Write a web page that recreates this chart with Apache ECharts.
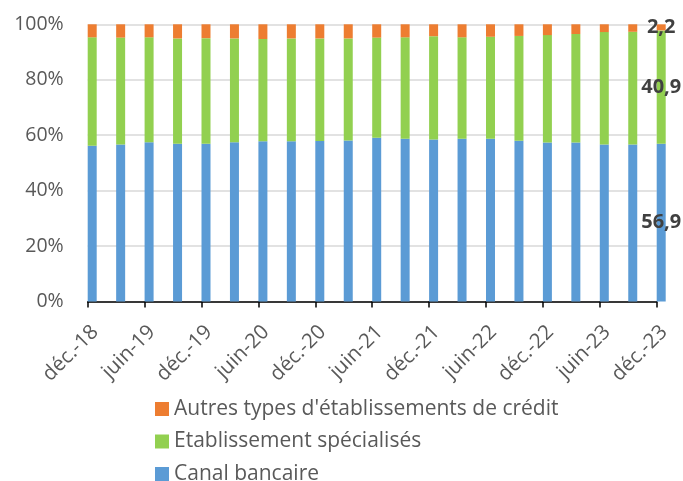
<!DOCTYPE html>
<html><head><meta charset="utf-8">
<script src="https://cdn.jsdelivr.net/npm/echarts@6/dist/echarts.min.js"></script>
<style>html,body{margin:0;padding:0;background:#fff}#c{width:683px;height:481px}</style>
</head><body><div id="c"></div>
<script>
const categories = ['déc.-18','mars-19','juin-19','sept.-19','déc.-19','mars-20','juin-20','sept.-20','déc.-20','mars-21','juin-21','sept.-21','déc.-21','mars-22','juin-22','sept.-22','déc.-22','mars-23','juin-23','sept.-23','déc.-23'];
const canalBancaire = [56.2,56.6,57.4,56.9,56.9,57.4,57.8,57.8,57.9,58.1,59.1,58.7,58.4,58.7,58.7,58.0,57.3,57.3,56.6,56.6,56.9];
const etabSpecialises = [39.1,38.6,37.9,38.0,38.1,37.5,36.9,37.1,37.0,36.8,36.1,36.6,37.3,36.6,36.8,37.8,38.8,39.2,40.6,40.7,40.9];
const autresTypes = [4.7,4.8,4.7,5.1,5.0,5.1,5.3,5.1,5.1,5.1,4.8,4.7,4.3,4.7,4.5,4.2,3.9,3.5,2.8,2.7,2.2];
const yTicks = [0,20,40,60,80,100];
const seriesNames = ['Canal bancaire','Etablissement spécialisés',"Autres types d'établissements de crédit"];

const FONT = 'Open Sans';
const last = categories.length - 1;
const lbl = {
  show: true, position: 'inside', color: '#404040', fontWeight: 'bold', fontSize: 20, fontFamily: FONT,
  formatter: p => p.dataIndex === last ? p.value.toFixed(1).replace('.', ',') : ''
};
function mk(name, data, color) {
  return { name, type: 'bar', stack: 'total', data, barWidth: 9, clip: false,
    itemStyle: { color }, label: lbl, emphasis: { disabled: true } };
}
const chart = echarts.init(document.getElementById('c'), null, { renderer: 'canvas' });
chart.setOption({
  animation: false,
  textStyle: { fontFamily: FONT },
  grid: { left: 87.7, right: 26.3, top: 24.3, bottom: 179.6 },
  legend: {
    orient: 'vertical', left: 155, top: 398.5, height: 150, padding: 0,
    itemWidth: 14, itemHeight: 14, itemGap: 11.5, itemTextGap: 7,
    icon: 'rect', data: [seriesNames[2], seriesNames[1], seriesNames[0]],
    textStyle: { fontSize: 21, color: '#595959', fontFamily: FONT }
  },
  xAxis: {
    type: 'category', data: categories, boundaryGap: false,
    axisLine: { lineStyle: { color: '#000', width: 1.5 } },
    axisTick: { interval: 1, length: 6, lineStyle: { color: '#000', width: 1.5 } },
    axisLabel: { interval: 1, rotate: 45, margin: 20, verticalAlign: 'top', fontSize: 20.5, color: '#595959', fontFamily: FONT }
  },
  yAxis: {
    type: 'value', min: yTicks[0], max: yTicks[yTicks.length - 1], interval: 20,
    axisLine: { show: false }, axisTick: { show: false },
    splitLine: { lineStyle: { color: '#D9D9D9', width: 1.5 } },
    axisLabel: { formatter: '{value}%', fontSize: 19.5, color: '#595959', margin: 24, fontFamily: FONT }
  },
  series: [
    { name: '_offset', type: 'bar', stack: 'offset', data: categories.map(() => '-'), barWidth: 9, barGap: 0, silent: true },
    mk(seriesNames[0], canalBancaire, '#5B9BD5'),
    mk(seriesNames[1], etabSpecialises, '#92D050'),
    mk(seriesNames[2], autresTypes, '#ED7D31')
  ]
});
</script></body></html>
